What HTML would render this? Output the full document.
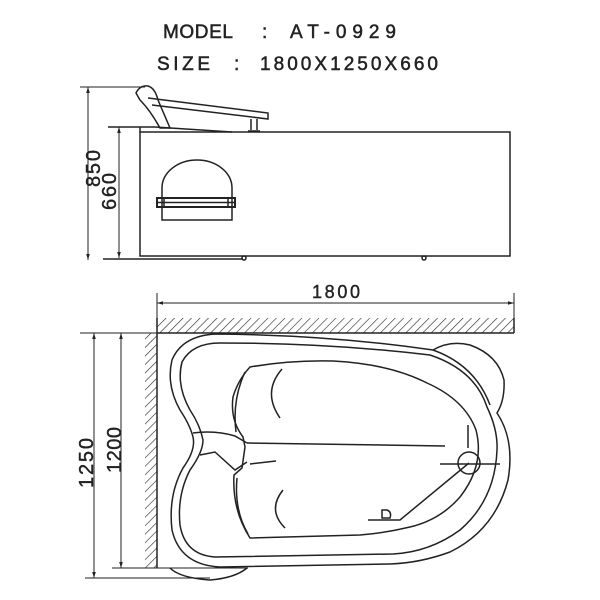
<!DOCTYPE html>
<html><head><style>
html,body{margin:0;padding:0;background:#fff;}
svg{display:block}
text{font-family:"Liberation Sans","DejaVu Sans",sans-serif;fill:#222}
</style></head><body>
<svg width="600" height="600" viewBox="0 0 600 600" xmlns="http://www.w3.org/2000/svg">
<defs>
<pattern id="h" width="6" height="6" patternUnits="userSpaceOnUse" patternTransform="rotate(45)">
<line x1="0" y1="0" x2="0" y2="6" stroke="#333" stroke-width="1.3"/>
</pattern>
<marker id="a" viewBox="0 0 10 10" refX="10" refY="5" markerWidth="6" markerHeight="6" orient="auto-start-reverse"><path d="M0,2 L10,5 L0,8 z" fill="#222"/></marker>
</defs>
<g stroke="#222" stroke-width="0.5">
<text x="163" y="38" font-size="19" textLength="70">MODEL</text>
<text x="262" y="38" font-size="19">:</text>
<text x="290" y="38" font-size="19" textLength="106">AT-0929</text>
<text x="157" y="70" font-size="19" textLength="53">SIZE</text>
<text x="234" y="70" font-size="19">:</text>
<text x="260" y="70" font-size="19" textLength="178">1800X1250X660</text>
</g>

<g stroke="#222" stroke-width="1.5" fill="none">
<!-- side view -->
<line x1="80" y1="87" x2="145" y2="87" stroke-width="1"/>
<line x1="88" y1="87" x2="88" y2="260" stroke-width="1" marker-start="url(#a)" marker-end="url(#a)"/>
<line x1="108" y1="127" x2="155" y2="127"/>
<line x1="119" y1="127" x2="119" y2="258" stroke-width="1" marker-start="url(#a)" marker-end="url(#a)"/>
<line x1="155" y1="127" x2="232" y2="132"/>
<rect x="140" y="132" width="370" height="124"/>
<line x1="140" y1="127" x2="140" y2="132"/>
<line x1="103" y1="259" x2="243" y2="259"/>
<circle cx="244" cy="258" r="2"/><circle cx="424" cy="258" r="2"/>
<path d="M136,93 Q140,85 148,86 Q155,88 158,100 L170,128 L160,128 Q150,110 140,100 Z"/>
<path d="M148,98 L268,113 L268,119 L152,105"/>
<path d="M251,119 L251,130 M257,119 L257,130 M248,131 L260,131"/>
<path d="M162,188 A35,28 0 0 1 232,188 L232,220 L162,220 Z"/>
<rect x="157" y="198" width="78" height="9" stroke-width="2"/>
<line x1="157" y1="202.5" x2="235" y2="202.5"/>
<line x1="164" y1="197" x2="164" y2="208"/><line x1="228" y1="197" x2="228" y2="208"/>

<!-- top view dims -->
<line x1="157" y1="293" x2="157" y2="333" stroke-width="1"/>
<line x1="514" y1="293" x2="514" y2="333" stroke-width="1"/>
<line x1="157" y1="303" x2="514" y2="303" stroke-width="1" marker-start="url(#a)" marker-end="url(#a)"/>
<line x1="80" y1="333" x2="157" y2="333" stroke-width="1"/>
<line x1="94" y1="333" x2="94" y2="578" stroke-width="1" marker-start="url(#a)" marker-end="url(#a)"/>
<line x1="121" y1="333" x2="121" y2="568" stroke-width="1" marker-start="url(#a)" marker-end="url(#a)"/>
<line x1="85" y1="578" x2="210" y2="578" stroke-width="1"/>
<line x1="112" y1="568" x2="248" y2="568" stroke-width="1"/>
</g>
<rect x="157" y="318" width="357" height="15" fill="url(#h)"/>
<rect x="145" y="333" width="12" height="235" fill="url(#h)"/>
<g stroke="#222" stroke-width="1.5" fill="none">
<line x1="157" y1="318" x2="157" y2="568"/>
<line x1="157" y1="333" x2="514" y2="333"/>
<line x1="514" y1="318" x2="514" y2="333"/>
<path d="M215,334 Q330,335 433,350 Q450,340 470,345 Q498,355 504,380 Q505,400 497,413 Q515,440 508,480 Q495,530 450,552 Q420,563 390,564 L220,567 Q180,565 172,530 Q168,495 183,468 Q196,450 193,437 Q190,425 180,410 Q166,385 172,360 Q182,336 215,334 Z"/>
<path d="M220,343 Q330,343 430,355 Q475,370 487,407 Q498,430 497,450 Q495,500 460,530 Q430,552 393,554 L215,557 Q185,555 180,525 Q177,495 190,470 Q203,452 203,440 Q200,425 190,410 Q176,385 182,362 Q192,343 220,343 Z"/>
<path d="M433,350 Q475,365 490,405"/>
<path d="M250,367 Q290,360 333,361 Q390,364 427,383 Q465,400 476,430 Q485,465 460,497 Q440,520 410,527 Q385,533 360,535 L250,538 Q232,510 234,475 L242,468 L245,447 L243,437 Q230,420 233,397 Q238,380 250,367 Z"/>
<path d="M245,372 Q232,400 236,432 M237,478 Q234,510 248,534"/>
<path d="M282,369 Q262,392 280,418 M283,490 Q267,510 285,528"/>
<path d="M247,443 L445,446"/>
<path d="M193,433 Q215,430 235,436 L247,443 M200,455 L215,452 L235,470 L247,462 M250,464 L276,461"/>
<line x1="468" y1="425" x2="468" y2="448"/>
<line x1="440" y1="464" x2="500" y2="464"/>
<circle cx="469" cy="463" r="11"/>
<path d="M469,463 L400,520 L368,520"/>
<path d="M382,510 L382,518 L390,518 Q392,512 387,510 Z"/>
<path d="M170,568 Q180,578 210,580 Q235,578 247,568"/>
</g>
<g stroke="#222" stroke-width="0.4">
<text font-size="20" transform="translate(93,488) rotate(-90)" textLength="50">1250</text>
<text font-size="20" transform="translate(121,473) rotate(-90)" textLength="46">1200</text>
<text font-size="20" transform="translate(100,187) rotate(-90)" textLength="37">850</text>
<text font-size="20" transform="translate(116,210) rotate(-90)" textLength="37">660</text>
<text x="312" y="298" font-size="18" textLength="48">1800</text>
</g>
</svg>
</body></html>
